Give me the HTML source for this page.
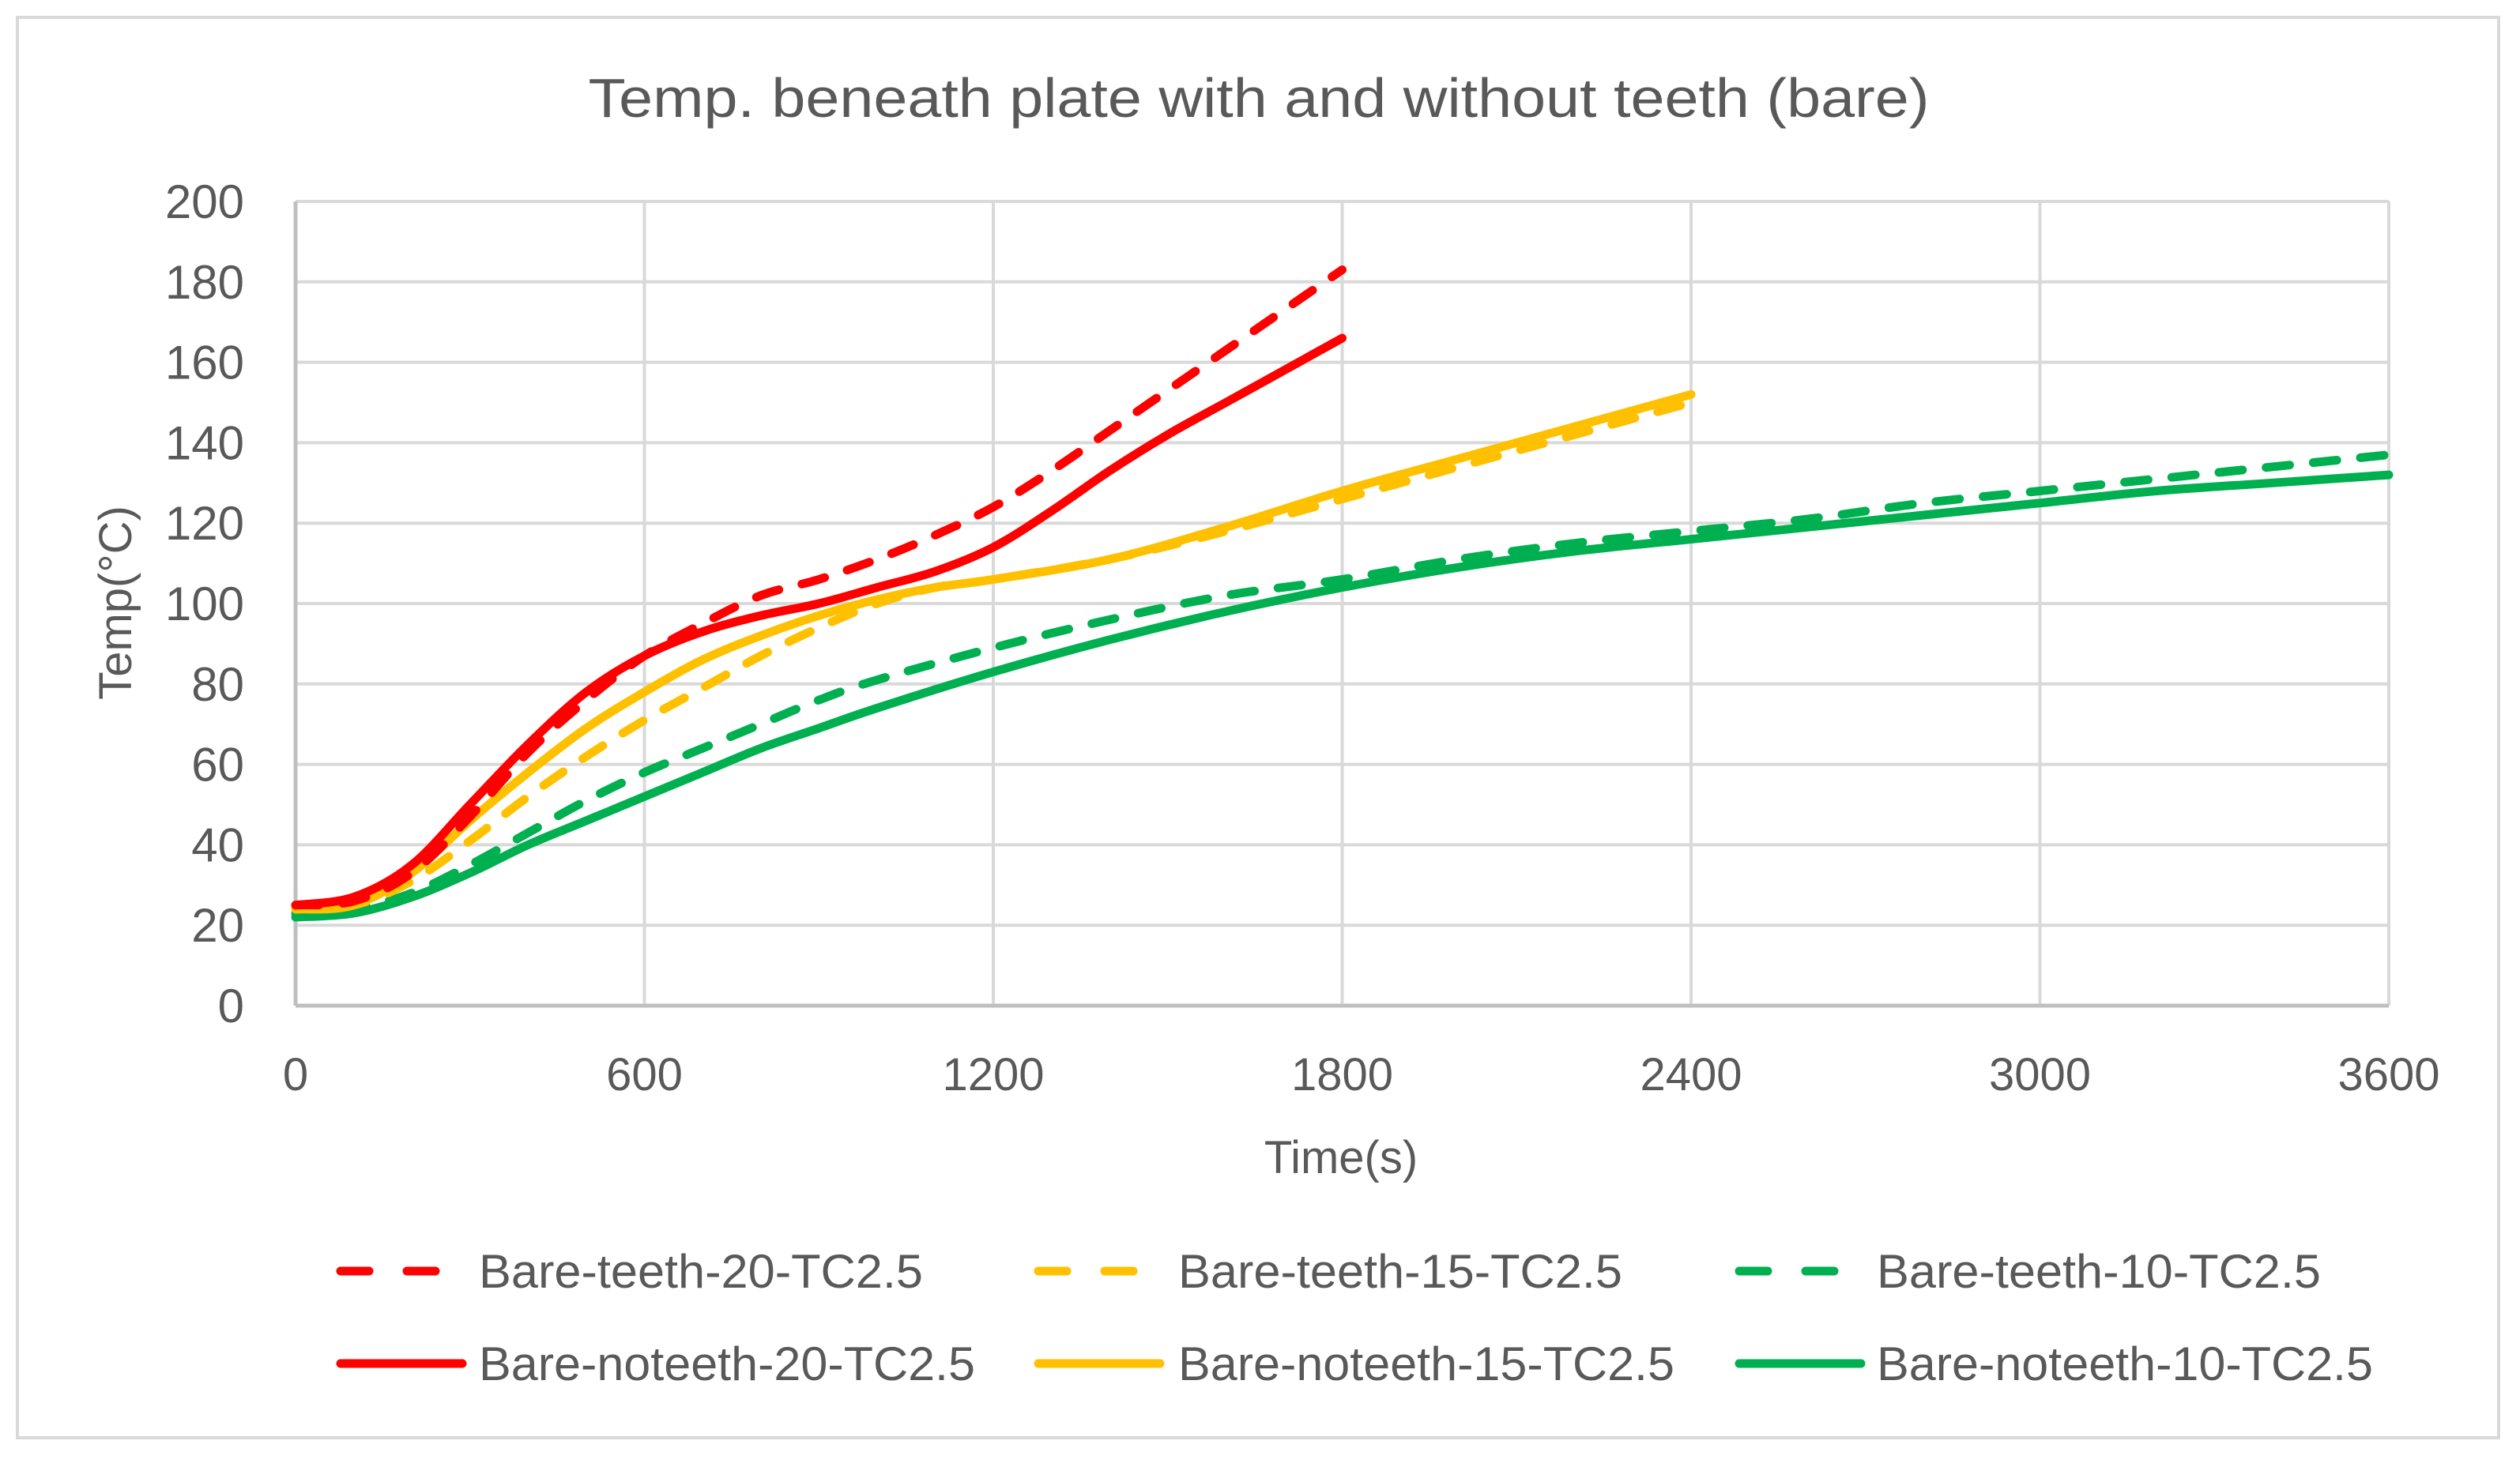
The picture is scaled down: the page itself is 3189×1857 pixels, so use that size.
<!DOCTYPE html>
<html><head><meta charset="utf-8"><style>
html,body{margin:0;padding:0;background:#fff;}
svg{display:block;font-family:"Liberation Sans",sans-serif;}
</style></head><body>
<svg id="chart" width="3189" height="1857" viewBox="0 0 3189 1857" xmlns="http://www.w3.org/2000/svg">
<rect x="22" y="22" width="3140" height="1798" fill="#fff" stroke="#D9D9D9" stroke-width="4"/>
<text x="1593" y="148" text-anchor="middle" font-size="70" fill="#595959" textLength="1697" lengthAdjust="spacingAndGlyphs">Temp. beneath plate with and without teeth (bare)</text>
<g id="grid"></g>
<g id="axes"></g>
<g id="series"></g>
<text x="1697" y="1485" text-anchor="middle" font-size="58" fill="#595959">Time(s)</text>
<text transform="translate(166,763) rotate(-90)" text-anchor="middle" font-size="58" fill="#595959">Temp(°C)</text>
<g id="legend"></g>
</svg>
<script>
const xTicks = [0, 600, 1200, 1800, 2400, 3000, 3600];
const yTicks = [0, 20, 40, 60, 80, 100, 120, 140, 160, 180, 200];
const seriesNames = ["Bare-teeth-20-TC2.5","Bare-teeth-15-TC2.5","Bare-teeth-10-TC2.5","Bare-noteeth-20-TC2.5","Bare-noteeth-15-TC2.5","Bare-noteeth-10-TC2.5"];
const tRed = [0,100,200,300,400,500,600,700,800,900,1000,1100,1200,1300,1400,1500,1600,1700,1800];
const teeth20 = [25,26,33,47,63,76,87,95,102,106,111,117,124,133,143,153,163,173,183];
const noteeth20 = [25,27,35,50,65,78,87,93,97,100,104,108,114,123,133,142,150,158,166];
const tYel = [0,100,200,300,400,500,600,700,800,900,1000,1100,1200,1400,1600,1800,2000,2200,2400];
const teeth15 = [24,25,31,41,52,62,71,79,87,94,100,104,106,111,118,126,134,142,150];
const noteeth15 = [24,25,33,46,58,69,78,86,92,97,101,104,106,111,119,128,136,144,152];
const tGrn = [0,100,200,300,400,500,600,700,800,900,1000,1200,1400,1600,1800,2000,2200,2400,2600,2800,3000,3200,3400,3600];
const teeth10 = [23,24,28,35,43,51,58,64,70,76,81,89,96,102,106,111,115,118,121,125,128,131,134,137];
const noteeth10 = [22,23,27,33,40,46,52,58,64,69,74,83,91,98,104,109,113,116,119,122,125,128,130,132];

const NS="http://www.w3.org/2000/svg";
const L=374,R=3023,T=255,B=1273;
const xs=v=>L+(v-0)/3600*(R-L);
const ys=v=>B-(v-0)/200*(B-T);
function mk(tag,attrs,parent){const e=document.createElementNS(NS,tag);for(const k in attrs)e.setAttribute(k,attrs[k]);parent.appendChild(e);return e;}
const grid=document.getElementById('grid'),axes=document.getElementById('axes'),ser=document.getElementById('series'),leg=document.getElementById('legend');
yTicks.forEach(v=>{
  if(v>0){const g=mk('line',{x1:L,x2:R,y1:ys(v),y2:ys(v),stroke:'#D9D9D9','stroke-width':4},grid);
  
  }
  const t=mk('text',{x:309,y:ys(v)+21,'text-anchor':'end','font-size':60,fill:'#595959'},axes);
  t.textContent=v;
  
  
});
xTicks.forEach(v=>{
  if(v>0){const g=mk('line',{x1:xs(v),x2:xs(v),y1:T,y2:B,stroke:'#D9D9D9','stroke-width':4},grid);
  
  }
  const t=mk('text',{x:xs(v),y:1380,'text-anchor':'middle','font-size':58,fill:'#595959'},axes);
  t.textContent=v;
  
  
});
const ax=mk('line',{x1:L,x2:R,y1:B,y2:B,stroke:'#BFBFBF','stroke-width':5},axes);


const ay=mk('line',{x1:L,x2:L,y1:T,y2:B,stroke:'#BFBFBF','stroke-width':5},axes);



function pathD(tx,vy){
  const p=tx.map((t,i)=>[xs(t),ys(vy[i])]);
  let d='M'+p[0][0]+','+p[0][1];
  for(let i=0;i<p.length-1;i++){
    const p0=p[Math.max(0,i-1)],p1=p[i],p2=p[i+1],p3=p[Math.min(p.length-1,i+2)];
    const c1=[p1[0]+(p2[0]-p0[0])/6,p1[1]+(p2[1]-p0[1])/6];
    const c2=[p2[0]-(p3[0]-p1[0])/6,p2[1]-(p3[1]-p1[1])/6];
    d+=' C'+c1[0]+','+c1[1]+' '+c2[0]+','+c2[1]+' '+p2[0]+','+p2[1];
  }
  return d;
}
const defs=[
 [tRed,teeth20,'#FF0000',true],[tYel,teeth15,'#FFC000',true],[tGrn,teeth10,'#00B050',true],
 [tRed,noteeth20,'#FF0000',false],[tYel,noteeth15,'#FFC000',false],[tGrn,noteeth10,'#00B050',false]];
const drawOrder=[5,2,4,1,3,0];
drawOrder.forEach(i=>{
  const [tx,vy,c,dash]=defs[i];
  const a={d:pathD(tx,vy),fill:'none',stroke:c,'stroke-width':11,'stroke-linecap':'round','stroke-linejoin':'round'};
  if(dash)a['stroke-dasharray']='30,30';
  const p=mk('path',a,ser);
  
  
});
const lx=[425,1308,2195], tx0=[606,1491,2375], ly=[1609,1726];
defs.forEach((d,i)=>{
  const col=i%3,row=Math.floor(i/3);
  const g=mk('g',{},leg);
  
  
  const a={x1:lx[col]+6,x2:lx[col]+160,y1:ly[row],y2:ly[row],stroke:d[2],'stroke-width':11,'stroke-linecap':'round'};
  if(d[3])a['stroke-dasharray']='36,48';
  const ln=mk('line',a,g);
  
  
  const t=mk('text',{x:tx0[col],y:ly[row]+21,'font-size':60,fill:'#595959',textLength:d[3]?562:628,lengthAdjust:'spacingAndGlyphs'},g);
  t.textContent=seriesNames[i];
  
  
});
</script>
</body></html>
